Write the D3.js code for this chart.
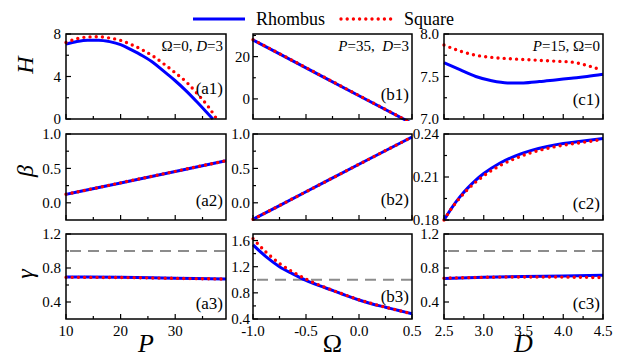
<!DOCTYPE html>
<html>
<head>
<meta charset="utf-8">
<script src="https://cdn.jsdelivr.net/npm/d3@7"></script>
<style>
  body { margin: 0; background: #fff; }
  svg { display: block; }
  svg text { font-family: "Liberation Serif", "DejaVu Serif", serif; }
</style>
</head>
<body>
<svg id="chart" width="623" height="354" font-family="Liberation Serif, DejaVu Serif, serif"></svg>
<script>
// ---- values ----
// column a: vs P  (Omega=0, D=3)
const a1P_rhombus = [10, 12, 14, 16, 18, 20, 22, 24, 26, 28, 30, 32, 34, 36, 36.9];
const a1H_rhombus = [7.06, 7.3, 7.42, 7.42, 7.28, 7.0, 6.5, 5.95, 5.3, 4.45, 3.6, 2.65, 1.6, 0.5, 0];
const a1P_square = [10, 12, 14, 16, 18, 20, 22, 24, 26, 28, 30, 32, 34, 36, 37.6];
const a1H_square = [7.2, 7.55, 7.72, 7.74, 7.62, 7.4, 7.0, 6.5, 5.9, 5.15, 4.35, 3.5, 2.4, 1.2, 0];
const a2P = [10, 20, 30, 39.3];
const a2Beta_rhombus = [0.122, 0.288, 0.455, 0.61];
const a2Beta_square = [0.124, 0.29, 0.457, 0.612];
const a3P = [10, 20, 30, 39.3];
const a3Gamma_rhombus = [0.694, 0.69, 0.68, 0.672];
const a3Gamma_square = [0.69, 0.688, 0.678, 0.67];

// column b: vs Omega  (P=35, D=3)
const b1W = [-1, -0.5, 0, 0.5];
const b1H_rhombus = [27.9, 14.7, 1.5, -11.6];
const b1H_square = [28.0, 14.8, 1.6, -11.5];
const b2W = [-1, -0.5, 0, 0.5];
const b2Beta_rhombus = [-0.24, 0.16, 0.56, 0.956];
const b2Beta_square = [-0.24, 0.16, 0.56, 0.956];
const b3W = [-1, -0.875, -0.75, -0.625, -0.5, -0.375, -0.25, -0.125, 0, 0.125, 0.25, 0.375, 0.5];
const b3Gamma_rhombus = [1.533, 1.35, 1.2, 1.09, 0.99, 0.91, 0.837, 0.76, 0.69, 0.63, 0.58, 0.53, 0.48];
const b3Gamma_square = [1.63, 1.42, 1.25, 1.12, 1.01, 0.92, 0.84, 0.765, 0.695, 0.635, 0.58, 0.53, 0.48];

// column c: vs D  (P=15, Omega=0)
const c1D_rhombus = [2.5, 2.7, 2.9, 3.1, 3.3, 3.5, 3.7, 3.9, 4.1, 4.3, 4.5];
const c1H_rhombus = [7.662, 7.58, 7.5, 7.45, 7.425, 7.425, 7.44, 7.46, 7.48, 7.5, 7.526];
const c1D_square = [2.5, 2.7, 2.9, 3.1, 3.3, 3.5, 3.7, 3.9, 4.1, 4.3, 4.45];
const c1H_square = [7.87, 7.8, 7.75, 7.725, 7.71, 7.7, 7.69, 7.68, 7.67, 7.63, 7.585];
const c2D = [2.5, 2.6, 2.7, 2.8, 2.9, 3.0, 3.2, 3.4, 3.6, 3.8, 4.0, 4.2, 4.5];
const c2Beta_rhombus = [0.18, 0.1887, 0.1961, 0.2024, 0.2078, 0.2124, 0.2196, 0.2248, 0.2286, 0.2313, 0.2333, 0.2347, 0.2368];
const c2Beta_square = [0.18, 0.1885, 0.1955, 0.2015, 0.2065, 0.2108, 0.2178, 0.223, 0.227, 0.23, 0.2322, 0.2338, 0.2362];
const c3D = [2.5, 3.0, 3.5, 4.0, 4.5];
const c3Gamma_rhombus = [0.675, 0.69, 0.7, 0.705, 0.714];
const c3Gamma_square = [0.68, 0.69, 0.695, 0.693, 0.687];

const gammaRef = 1.0; // dashed reference line in the gamma row
const legendNames = ['Rhombus', 'Square'];

const FONT = '"Liberation Serif", "DejaVu Serif", serif';

main();

function main () {
  const svg = d3.select('svg#chart');

  const cols = [
    { x0: 66, x1: 226, domain: [10, 39.3], major: [10, 20, 30], minor: [15, 25, 35], fmt: d3.format('d') },
    { x0: 253, x1: 412, domain: [-1, 0.5], major: [-1, -0.5, 0, 0.5], minor: [-0.75, -0.25, 0.25], fmt: d => d.toFixed(1) },
    { x0: 444, x1: 603, domain: [2.5, 4.5], major: [2.5, 3, 3.5, 4, 4.5], minor: [2.75, 3.25, 3.75, 4.25], fmt: d => d.toFixed(1) },
  ];
  const rows = [{ y0: 34, y1: 119 }, { y0: 134, y1: 220 }, { y0: 234, y1: 319 }];

  const f1 = d => d.toFixed(1);
  // tagUp: how far above the bottom edge the "(xN)" tag sits
  const panels = [
    { c: 0, r: 0, tag: '(a1)', tagUp: 25, yDomain: [0, 8], yMajor: [0, 4, 8], yMinor: [2, 6], yFmt: d3.format('d'),
      blue: zip(a1P_rhombus, a1H_rhombus), red: zip(a1P_square, a1H_square),
      note: [['Ω=0, ', false], ['D', true], ['=3', false]] },
    { c: 1, r: 0, tag: '(b1)', tagUp: 19, yDomain: [-9.5, 30.7], yMajor: [0, 20], yMinor: [10, 30], yFmt: d3.format('d'),
      blue: zip(b1W, b1H_rhombus), red: zip(b1W, b1H_square),
      note: [['P', true], ['=35,  ', false], ['D', true], ['=3', false]] },
    { c: 2, r: 0, tag: '(c1)', tagUp: 14, yDomain: [7, 8], yMajor: [7, 7.5, 8], yMinor: [7.25, 7.75], yFmt: f1,
      blue: zip(c1D_rhombus, c1H_rhombus), red: zip(c1D_square, c1H_square),
      note: [['P', true], ['=15, Ω=0', false]] },
    { c: 0, r: 1, tag: '(a2)', tagUp: 14, yDomain: [-0.25, 1], yMajor: [0, 0.5, 1], yMinor: [0.25, 0.75], yFmt: f1,
      blue: zip(a2P, a2Beta_rhombus), red: zip(a2P, a2Beta_square) },
    { c: 1, r: 1, tag: '(b2)', tagUp: 15, yDomain: [-0.25, 1], yMajor: [0, 0.5, 1], yMinor: [0.25, 0.75], yFmt: f1,
      blue: zip(b2W, b2Beta_rhombus), red: zip(b2W, b2Beta_square) },
    { c: 2, r: 1, tag: '(c2)', tagUp: 11, yDomain: [0.18, 0.24], yMajor: [0.18, 0.21, 0.24], yMinor: [0.195, 0.225], yFmt: d => d.toFixed(2),
      blue: zip(c2D, c2Beta_rhombus), red: zip(c2D, c2Beta_square) },
    { c: 0, r: 2, tag: '(a3)', tagUp: 10, yDomain: [0.2, 1.2], yMajor: [0.4, 0.8, 1.2], yMinor: [0.6, 1.0], yFmt: f1,
      blue: zip(a3P, a3Gamma_rhombus), red: zip(a3P, a3Gamma_square), ref: gammaRef },
    { c: 1, r: 2, tag: '(b3)', tagUp: 17, yDomain: [0.4, 1.7], yMajor: [0.4, 0.8, 1.2, 1.6], yMinor: [0.6, 1.0, 1.4], yFmt: f1,
      blue: zip(b3W, b3Gamma_rhombus), red: zip(b3W, b3Gamma_square), ref: gammaRef },
    { c: 2, r: 2, tag: '(c3)', tagUp: 10, yDomain: [0.2, 1.2], yMajor: [0.4, 0.8, 1.2], yMinor: [0.6, 1.0], yFmt: f1,
      blue: zip(c3D, c3Gamma_rhombus), red: zip(c3D, c3Gamma_square), ref: gammaRef },
  ];

  panels.forEach((p, i) => drawPanel(svg, p, cols[p.c], rows[p.r], i));

  // y-axis titles
  const yTitles = [['H', 65], ['β', 171], ['γ', 274]];
  yTitles.forEach(([t, y]) => {
    svg.append('text').text(t)
      .attr('transform', `translate(33,${y}) rotate(-90)`)
      .attr('text-anchor', 'middle')
      .attr('font-family', FONT)
      .attr('font-size', 24).attr('font-style', 'italic');
  });
  // x-axis titles
  const xTitles = [['P', true], ['Ω', false], ['D', true]];
  xTitles.forEach(([t, it], i) => {
    svg.append('text').text(t)
      .attr('x', (cols[i].x0 + cols[i].x1) / 2)
      .attr('y', 352)
      .attr('text-anchor', 'middle')
      .attr('font-family', FONT)
      .attr('font-size', 26)
      .attr('font-style', it ? 'italic' : 'normal');
  });

  drawLegend(svg);
}

function zip (xs, ys) {
  return xs.map((x, i) => [x, ys[i]]);
}

function drawPanel (svg, p, col, row, idx) {
  const x = d3.scaleLinear().domain(col.domain).range([col.x0, col.x1]);
  const y = d3.scaleLinear().domain(p.yDomain).range([row.y1, row.y0]);
  const g = svg.append('g');

  const clipId = 'clip' + idx;
  svg.append('clipPath').attr('id', clipId)
    .append('rect')
    .attr('x', col.x0 - 3).attr('y', row.y0)
    .attr('width', col.x1 - col.x0 + 6).attr('height', row.y1 - row.y0 + 2);

  // bottom ticks (pointing in)
  const bottomTicks = col.major.map(v => [v, 5]).concat(col.minor.map(v => [v, 3]));
  bottomTicks.forEach(([v, len]) => {
    g.append('line')
      .attr('x1', x(v)).attr('x2', x(v))
      .attr('y1', row.y1).attr('y2', row.y1 - len)
      .attr('stroke', '#000').attr('stroke-width', 1.2);
  });
  const leftTicks = p.yMajor.map(v => [v, 5]).concat(p.yMinor.map(v => [v, 3]));
  leftTicks.forEach(([v, len]) => {
    g.append('line')
      .attr('x1', col.x0).attr('x2', col.x0 + len)
      .attr('y1', y(v)).attr('y2', y(v))
      .attr('stroke', '#000').attr('stroke-width', 1.2);
  });

  // y tick labels
  const gap = p.c === 1 ? 3 : 5;
  p.yMajor.forEach(v => {
    g.append('text').text(p.yFmt(v))
      .attr('x', col.x0 - gap).attr('y', y(v))
      .attr('dy', '0.35em')
      .attr('text-anchor', 'end')
      .attr('font-family', FONT)
      .attr('font-size', 15);
  });
  // x tick labels only in the bottom row
  if (p.r === 2) {
    col.major.forEach(v => {
      g.append('text').text(col.fmt(v))
        .attr('x', x(v)).attr('y', row.y1 + 17)
        .attr('text-anchor', 'middle')
        .attr('font-family', FONT)
        .attr('font-size', 15);
    });
  }

  const plot = g.append('g').attr('clip-path', `url(#${clipId})`);

  if (p.ref !== undefined) {
    plot.append('line')
      .attr('x1', col.x0 + 4).attr('x2', col.x1)
      .attr('y1', y(p.ref)).attr('y2', y(p.ref))
      .attr('stroke', '#8c8c8c').attr('stroke-width', 2)
      .attr('stroke-dasharray', '11 7');
  }

  const line = d3.line()
    .x(d => x(d[0]))
    .y(d => y(d[1]))
    .curve(d3.curveMonotoneX);

  plot.append('path').datum(p.blue)
    .attr('d', line)
    .attr('fill', 'none')
    .attr('stroke', '#0000ff')
    .attr('stroke-width', 3);
  plot.append('path').datum(p.red)
    .attr('d', line)
    .attr('fill', 'none')
    .attr('stroke', '#ff0000')
    .attr('stroke-width', 3.4)
    .attr('stroke-linecap', 'round')
    .attr('stroke-dasharray', '0 6.2');

  // frame
  g.append('rect')
    .attr('x', col.x0).attr('y', row.y0)
    .attr('width', col.x1 - col.x0).attr('height', row.y1 - row.y0)
    .attr('fill', 'none')
    .attr('stroke', '#000').attr('stroke-width', 1.5);

  // panel tag
  g.append('text').text(p.tag)
    .attr('x', col.x1 - 3).attr('y', row.y1 - p.tagUp)
    .attr('text-anchor', 'end')
    .attr('font-family', FONT)
    .attr('font-size', 17);

  if (p.note) {
    const t = g.append('text')
      .attr('x', col.x1 - 3).attr('y', row.y0 + 17)
      .attr('text-anchor', 'end')
      .attr('font-family', FONT)
      .attr('font-size', 15)
      .attr('xml:space', 'preserve');
    p.note.forEach(([s, it]) => {
      t.append('tspan').text(s).attr('font-style', it ? 'italic' : 'normal');
    });
  }
}

function drawLegend (svg) {
  const y = 19;
  svg.append('line')
    .attr('x1', 193).attr('x2', 245).attr('y1', y).attr('y2', y)
    .attr('stroke', '#0000ff').attr('stroke-width', 3);
  svg.append('text').text(legendNames[0])
    .attr('x', 256).attr('y', y + 6)
    .attr('font-family', FONT)
    .attr('font-size', 18);
  svg.append('line')
    .attr('x1', 341).attr('x2', 392).attr('y1', y).attr('y2', y)
    .attr('stroke', '#ff0000').attr('stroke-width', 3.4)
    .attr('stroke-linecap', 'round')
    .attr('stroke-dasharray', '0 6.2');
  svg.append('text').text(legendNames[1])
    .attr('x', 404).attr('y', y + 6)
    .attr('font-family', FONT)
    .attr('font-size', 18);
}
</script>
</body>
</html>
